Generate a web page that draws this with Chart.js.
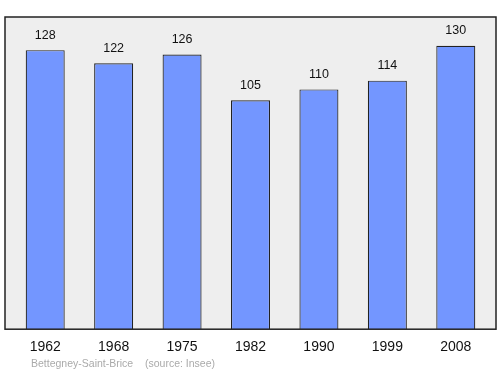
<!DOCTYPE html>
<html>
<head>
<meta charset="utf-8">
<script src="https://cdn.jsdelivr.net/npm/chart.js@4/dist/chart.umd.min.js"></script>
<style>
  html, body { margin: 0; padding: 0; background: #fff; }
  #wrap { position: relative; width: 500px; height: 374px; }
</style>
</head>
<body>
<div id="wrap"><canvas id="popChart" width="500" height="374"></canvas></div>
<script>
// data
const years = ["1962", "1968", "1975", "1982", "1990", "1999", "2008"];
const population = [128, 122, 126, 105, 110, 114, 130];
const placeName = "Bettegney-Saint-Brice";
const sourceNote = "(source: Insee)";

const FONT = "'Liberation Sans', Arial, sans-serif";

// grey panel behind the bars + frame on top
const panelPlugin = {
  id: "panel",
  beforeDatasetsDraw(chart) {
    const { ctx, chartArea: a } = chart;
    ctx.save();
    ctx.fillStyle = "#eeeeee";
    ctx.fillRect(a.left - 6, a.top, a.right - a.left + 12, a.bottom - a.top);
    ctx.restore();
  },
  afterDatasetsDraw(chart) {
    const { ctx, chartArea: a } = chart;
    ctx.save();
    ctx.strokeStyle = "#222";
    ctx.lineWidth = 1.5;
    ctx.strokeRect(a.left - 6, a.top, a.right - a.left + 12, a.bottom - a.top);

    // value labels above bars
    ctx.fillStyle = "#111";
    ctx.font = "12.5px " + FONT;
    ctx.textAlign = "center";
    ctx.textBaseline = "middle";
    chart.getDatasetMeta(0).data.forEach((bar, i) => {
      ctx.fillText(String(population[i]), bar.x, bar.y - 15);
    });

    // footer
    ctx.fillStyle = "#aaaaaa";
    ctx.font = "10.5px " + FONT;
    ctx.textAlign = "left";
    ctx.fillText(placeName, 31, 364);
    ctx.fillText(sourceNote, 145, 364);
    ctx.restore();
  }
};

new Chart(document.getElementById("popChart"), {
  type: "bar",
  data: {
    labels: years,
    datasets: [{
      data: population,
      backgroundColor: "#7396ff",
      borderColor: "#222",
      borderWidth: 1.2,
      barPercentage: 0.57,
      categoryPercentage: 1
    }]
  },
  options: {
    responsive: false,
    animation: false,
    layout: { padding: { left: 11, right: 10, top: 17, bottom: 8 } },
    plugins: { legend: { display: false }, tooltip: { enabled: false } },
    scales: {
      x: {
        grid: { display: false, drawTicks: false },
        border: { display: false },
        ticks: { color: "#111", font: { size: 14, family: FONT }, padding: 10 }
      },
      y: { display: false, min: 0, max: 143.2 }
    }
  },
  plugins: [panelPlugin]
});
</script>
</body>
</html>
